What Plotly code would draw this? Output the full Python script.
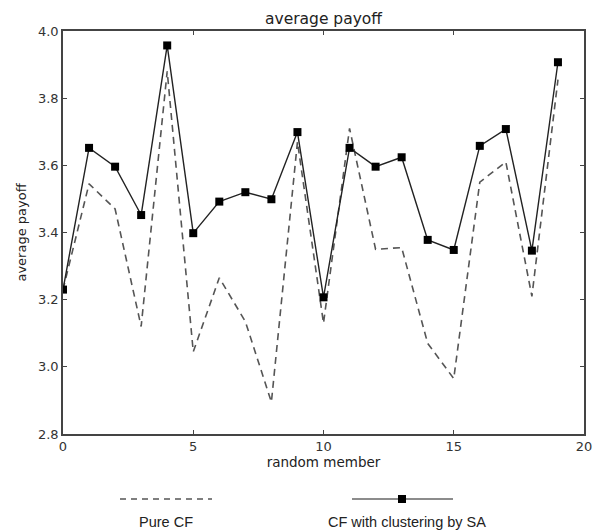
import plotly.graph_objects as go

members = list(range(20))
pure_cf = [3.23, 3.545, 3.47, 3.12, 3.88, 3.045, 3.265, 3.135, 2.895, 3.67,
           3.13, 3.71, 3.35, 3.355, 3.07, 2.965, 3.55, 3.61, 3.21, 3.855]
cf_sa = [3.23, 3.652, 3.596, 3.452, 3.957, 3.398, 3.492, 3.52, 3.499, 3.699,
         3.207, 3.652, 3.596, 3.624, 3.378, 3.348, 3.658, 3.708, 3.346, 3.907]
x_ticks = [0, 5, 10, 15, 20]
y_ticks = [2.8, 3.0, 3.2, 3.4, 3.6, 3.8, 4.0]
series_names = ["Pure CF", "CF with clustering by SA"]

fig = go.Figure()
fig.add_trace(go.Scatter(x=members, y=pure_cf, mode="lines", name=series_names[0],
                         line=dict(color="#555555", width=1.6, dash="7px,5px"),
                         showlegend=False))
fig.add_trace(go.Scatter(x=members, y=cf_sa, mode="lines+markers", name=series_names[1],
                         line=dict(color="#222222", width=1.4),
                         marker=dict(symbol="square", size=8, color="#000000"),
                         showlegend=False))

axis_common = dict(showgrid=False, zeroline=False, showline=True, linecolor="#444444",
                   linewidth=1.5, mirror="ticks", ticks="inside", ticklen=4,
                   tickcolor="#444444", automargin=False,
                   tickfont=dict(family="DejaVu Sans", size=13, color="#333333"))

fig.update_xaxes(range=[0, 20], tickvals=x_ticks, ticktext=[str(v) for v in x_ticks],
                 title=dict(text="random member", font=dict(family="DejaVu Sans", size=13.5, color="#222222"),
                            standoff=3),
                 **axis_common)
fig.update_yaxes(range=[2.8, 4.0], tickvals=y_ticks, ticktext=[f"{v:.1f}" for v in y_ticks],
                 title=dict(text="average payoff", font=dict(family="DejaVu Sans", size=13, color="#222222"),
                            standoff=8),
                 **axis_common)

# legend drawn below the plot (symbol above label)
shapes = [
    dict(type="line", xref="paper", yref="paper", x0=(120 - 63) / 521, x1=(212 - 63) / 521,
         y0=-(499 - 434) / 403, y1=-(499 - 434) / 403,
         line=dict(color="#555555", width=1.6, dash="6px,5px")),
    dict(type="line", xref="paper", yref="paper", x0=(352 - 63) / 521, x1=(453 - 63) / 521,
         y0=-(499 - 434) / 403, y1=-(499 - 434) / 403,
         line=dict(color="#666666", width=1.6)),
    dict(type="rect", xref="paper", yref="paper", x0=(398 - 63) / 521, x1=(406 - 63) / 521,
         y0=-(503 - 434) / 403, y1=-(495 - 434) / 403,
         fillcolor="#000000", line=dict(width=0)),
]
annotations = [
    dict(text=series_names[0], xref="paper", yref="paper", x=(166 - 63) / 521,
         y=-(522 - 434) / 403, showarrow=False, xanchor="center", yanchor="middle",
         font=dict(family="Liberation Sans", size=14.5, color="#222222")),
    dict(text=series_names[1], xref="paper", yref="paper", x=(407 - 63) / 521,
         y=-(522 - 434) / 403, showarrow=False, xanchor="center", yanchor="middle",
         font=dict(family="Liberation Sans", size=14.5, color="#222222")),
]

fig.update_layout(
    width=597, height=530,
    margin=dict(l=63, r=13, t=31, b=96),
    paper_bgcolor="white", plot_bgcolor="white",
    title=dict(text="average payoff", x=0.5, xref="paper", y=1 - 19 / 530, yanchor="middle",
               font=dict(family="DejaVu Sans", size=15.5, color="#222222")),
    shapes=shapes, annotations=annotations,
)

fig.write_html("out.html")
